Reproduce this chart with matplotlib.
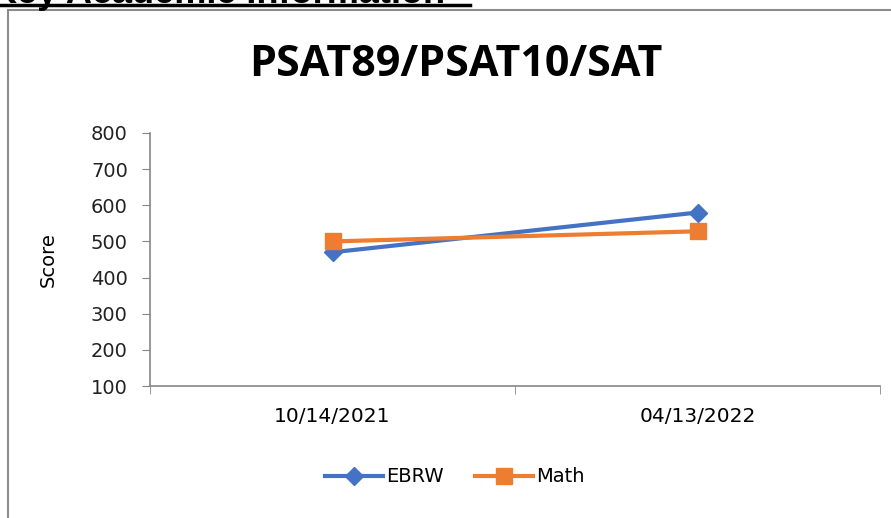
import matplotlib.pyplot as plt
from matplotlib.lines import Line2D
from matplotlib.patches import Rectangle

# Data
dates = ['10/14/2021', '04/13/2022']
ebrw = [470, 580]
math_scores = [500, 528]
y_ticks = [100, 200, 300, 400, 500, 600, 700, 800]

blue = '#4472C4'
orange = '#ED7D31'
axis_gray = '#868686'

fig = plt.figure(figsize=(8.91, 5.18), dpi=100)

# clipped page heading above the chart box
fig.text(-0.01, 1 - 3 / 518, 'Key Academic Information', fontsize=26,
         fontweight='bold', family='Liberation Sans', ha='left', va='baseline')
fig.add_artist(Line2D([0, 470 / 891], [1 - 5 / 518, 1 - 5 / 518],
                      color='black', lw=2.5, transform=fig.transFigure))

# chart box border
fig.add_artist(Rectangle((7.5 / 891, -0.05), 1.0, 1 - 10 / 518 + 0.05,
                         transform=fig.transFigure, fill=False,
                         edgecolor='#8c8c8c', lw=1.5))

ax = fig.add_axes([150 / 891, 1 - 386 / 518, 730 / 891, 253 / 518])
x = list(range(len(dates)))
ax.plot(x, ebrw, color=blue, lw=3, marker='D', markersize=9, label='EBRW')
ax.plot(x, math_scores, color=orange, lw=3, marker='s', markersize=12,
        label='Math')

ax.set_xlim(-0.5, len(dates) - 0.5)
ax.set_ylim(100, 800)
ax.set_yticks(y_ticks)
ax.set_xticks(x)
ax.set_xticklabels(dates, family='DejaVu Sans', fontsize=14.5)
ax.set_xticks([-0.5, 0.5, 1.5], minor=True)
ax.tick_params(axis='x', which='major', length=0, pad=15)
ax.tick_params(axis='x', which='minor', length=6, color=axis_gray)
ax.tick_params(axis='y', length=6, color=axis_gray, labelsize=14, pad=10)
for lab in ax.get_yticklabels():
    lab.set_family('DejaVu Sans')
    lab.set_color('#222222')

for side in ['top', 'right']:
    ax.spines[side].set_visible(False)
for side in ['left', 'bottom']:
    ax.spines[side].set_color(axis_gray)
    ax.spines[side].set_linewidth(1.2)

ax.set_ylabel('Score', family='DejaVu Sans', fontsize=14)
ax.yaxis.set_label_coords(-92 / 730, 0.5)

fig.text(456 / 891, 1 - 65 / 518, 'PSAT89/PSAT10/SAT', fontsize=31,
         fontweight='bold', family='Open Sans', ha='center', va='center')

leg = fig.legend(loc='center', bbox_to_anchor=(455 / 891, 1 - 477 / 518),
                 ncol=2, frameon=False, prop={'family': 'DejaVu Sans', 'size': 14},
                 handlelength=3.0, columnspacing=1.6, handletextpad=0.15)

plt.savefig('out.png', dpi=100)
